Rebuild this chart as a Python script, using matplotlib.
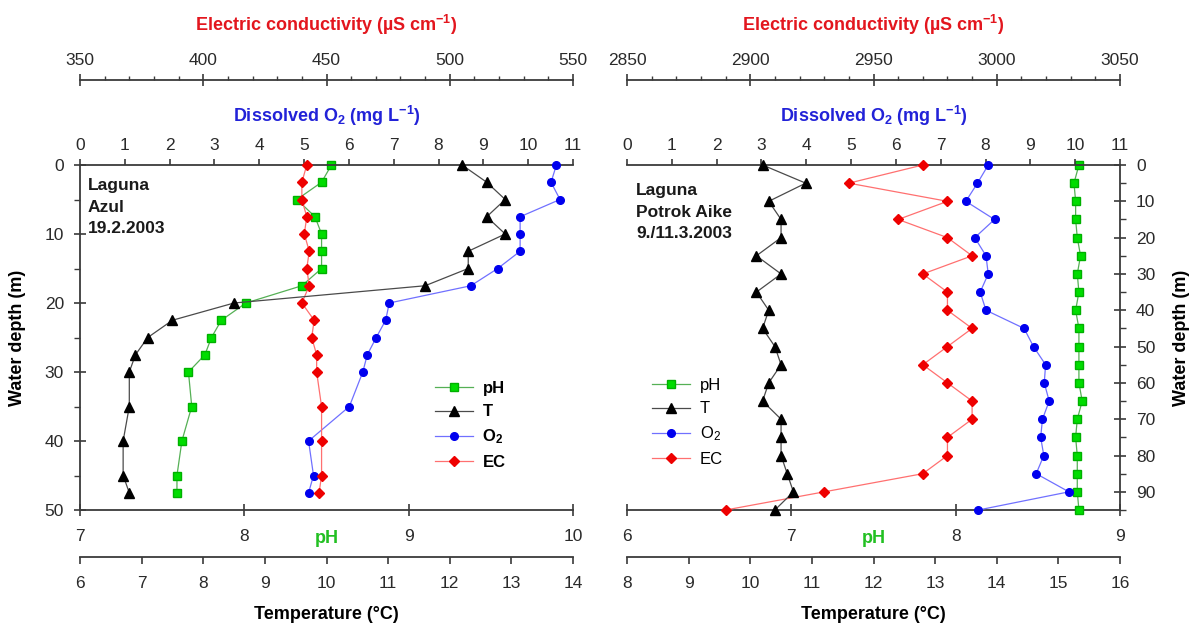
import matplotlib
matplotlib.use('Agg')
import matplotlib.pyplot as plt
from matplotlib.ticker import MultipleLocator
from matplotlib.lines import Line2D

plt.rcParams['font.family'] = ['Liberation Sans', 'DejaVu Sans']
plt.rcParams['mathtext.fontset'] = 'custom'
plt.rcParams['mathtext.rm'] = 'Liberation Sans'
plt.rcParams['mathtext.bf'] = 'Liberation Sans:bold'
plt.rcParams['mathtext.it'] = 'Liberation Sans:italic'

# ---------------- data ----------------
# Laguna Azul, 19.2.2003
depth_azul = [0, 2.5, 5, 7.5, 10, 12.5, 15, 17.5, 20, 22.5, 25, 27.5, 30, 35, 40, 45, 47.5]
ph_azul = [8.53, 8.47, 8.32, 8.43, 8.47, 8.47, 8.47, 8.35, 8.01, 7.86, 7.80, 7.76, 7.66, 7.68, 7.62, 7.59, 7.59]
t_azul = [12.2, 12.6, 12.9, 12.6, 12.9, 12.3, 12.3, 11.6, 8.5, 7.5, 7.1, 6.9, 6.8, 6.8, 6.7, 6.7, 6.8]
o2_azul = [10.63, 10.51, 10.71, 9.82, 9.82, 9.82, 9.32, 8.72, 6.90, 6.82, 6.61, 6.41, 6.31, 6.01, 5.10, 5.21, 5.10]
ec_azul = [442, 440, 440, 442, 441, 443, 442, 443, 440, 445, 444, 446, 446, 448, 448, 448, 447]

# Laguna Potrok Aike, 9./11.3.2003
depth_potrok = [0, 5, 10, 15, 20, 25, 30, 35, 40, 45, 50, 55, 60, 65, 70, 75, 80, 85, 90, 95]
ph_potrok = [8.75, 8.72, 8.73, 8.73, 8.74, 8.76, 8.74, 8.75, 8.73, 8.75,
             8.75, 8.75, 8.75, 8.77, 8.74, 8.73, 8.74, 8.74, 8.74, 8.75]
t_potrok = [10.2, 10.9, 10.3, 10.5, 10.5, 10.1, 10.5, 10.1, 10.3, 10.2,
            10.4, 10.5, 10.3, 10.2, 10.5, 10.5, 10.5, 10.6, 10.7, 10.4]
o2_potrok = [8.06, 7.82, 7.56, 8.20, 7.76, 8.01, 8.06, 7.88, 8.01, 8.86,
             9.07, 9.34, 9.31, 9.42, 9.27, 9.23, 9.30, 9.13, 9.86, 7.84]
ec_potrok = [2970, 2940, 2980, 2960, 2980, 2990, 2970, 2980, 2980, 2990,
             2980, 2970, 2980, 2990, 2990, 2980, 2980, 2970, 2930, 2890]

legend_labels = ['pH', 'T', 'O$_2$', 'EC']

# ---------------- styling ----------------
W, H = 1198, 632
fig = plt.figure(figsize=(W / 100, H / 100), dpi=100)

def fx(px):
    return px / W

def fy(py):
    return 1 - py / H

SPINE = '#3a3a3a'
TICKC = '#2a2a2a'
TS = 12.5     # tick label size
LS = 13       # axis title size
LW = 1.3

styles = {
    'pH': dict(color='#55b055', marker='s', ms=6, mfc='#00dd00', mec='#00b000', lw=0.9),
    'T': dict(color='#4a4a4a', marker='^', ms=6.5, mfc='black', mec='black', lw=0.9),
    'O2': dict(color='#7070ff', marker='o', ms=5.5, mfc='#0000ee', mec='#0000ee', lw=0.9),
    'EC': dict(color='#ff7070', marker='D', ms=5.5, mfc='#ee0000', mec='#ee0000', lw=0.9),
}


def panel(x0, x1, dmax, ph_lim, t_lim, ec_lim, side, depth, ph, t, o2, ec,
          site_text, text_xy, leg_xy, leg_bold):
    ax = fig.add_axes([fx(x0), fy(510), fx(x1) - fx(x0), fy(165) - fy(510)])
    ax.patch.set_visible(False)
    ax.set_xlim(*ph_lim)
    ax.set_ylim(dmax, 0)
    for s in ax.spines.values():
        s.set_color(SPINE)
        s.set_linewidth(LW)
    ax.spines['top'].set_visible(False)
    if side == 'left':
        ax.spines['right'].set_visible(False)
    else:
        ax.spines['left'].set_visible(False)
        ax.yaxis.tick_right()
        ax.yaxis.set_label_position('right')
    ax.xaxis.set_major_locator(MultipleLocator(1))
    ax.yaxis.set_major_locator(MultipleLocator(10))
    ax.yaxis.set_minor_locator(MultipleLocator(5))
    ax.tick_params(axis='x', which='major', direction='inout', length=9, width=1.2,
                   pad=9, labelsize=TS, color=SPINE, labelcolor=TICKC)
    ax.tick_params(axis='y', which='major', direction='inout', length=9, width=1.2,
                   pad=7, labelsize=TS, color=SPINE, labelcolor=TICKC)
    ax.tick_params(axis='y', which='minor', direction='out', length=4, width=1.0,
                   color=SPINE)
    if side == 'right':
        ax.set_yticks(range(0, 91, 10))
    ax.set_xlabel('pH', color='#22c022', fontsize=LS, fontweight='bold')
    ax.xaxis.set_label_coords(0.5, -0.058)
    ax.set_ylabel('Water depth (m)', fontsize=LS, fontweight='bold', color='black')
    if side == 'left':
        ax.yaxis.set_label_coords(-0.11, 0.5)
    else:
        ax.yaxis.set_label_coords(1.1075, 0.5)

    # dissolved O2 (top spine)
    ax_o2 = ax.twiny()
    ax_o2.set_xlim(0, 11)
    for k, s in ax_o2.spines.items():
        s.set_visible(k == 'top')
        s.set_color(SPINE)
        s.set_linewidth(LW)
    ax_o2.xaxis.set_major_locator(MultipleLocator(1))
    ax_o2.tick_params(axis='x', which='major', direction='out', length=4, width=1.2,
                      pad=4.6, labelsize=TS, color=SPINE, labelcolor=TICKC)
    ax_o2.set_xlabel(r'Dissolved O$_\mathbf{2}$ (mg L$^{\mathbf{-1}}$)', color='#2222d8',
                     fontsize=LS, fontweight='bold')
    ax_o2.xaxis.set_label_coords(0.5, 1.1246)

    # electric conductivity (offset top spine)
    ax_ec = ax.twiny()
    ax_ec.set_xlim(*ec_lim)
    for k, s in ax_ec.spines.items():
        s.set_visible(k == 'top')
        s.set_color(SPINE)
        s.set_linewidth(LW)
    ax_ec.spines['top'].set_position(('outward', 61))
    ax_ec.xaxis.set_major_locator(MultipleLocator(50))
    ax_ec.xaxis.set_minor_locator(MultipleLocator(10))
    ax_ec.tick_params(axis='x', which='major', direction='inout', length=9, width=1.2,
                      pad=4.2, labelsize=TS, color=SPINE, labelcolor=TICKC)
    ax_ec.tick_params(axis='x', which='minor', direction='out', length=3, width=1.0,
                      color=SPINE)
    ax_ec.set_xlabel(r'Electric conductivity (µS cm$^{\mathbf{-1}}$)', color='#e3161e',
                     fontsize=LS, fontweight='bold')
    ax_ec.xaxis.set_label_coords(0.5, 1.3875)

    # temperature (offset bottom spine)
    ax_t = ax.twiny()
    ax_t.set_xlim(*t_lim)
    ax_t.xaxis.set_ticks_position('bottom')
    ax_t.xaxis.set_label_position('bottom')
    for k, s in ax_t.spines.items():
        s.set_visible(k == 'bottom')
        s.set_color(SPINE)
        s.set_linewidth(LW)
    ax_t.spines['bottom'].set_position(('outward', 34))
    ax_t.xaxis.set_major_locator(MultipleLocator(1))
    ax_t.tick_params(axis='x', which='major', direction='out', length=5, width=1.2,
                     pad=8.5, labelsize=TS, color=SPINE, labelcolor=TICKC)
    ax_t.set_xlabel('Temperature (°C)', color='black', fontsize=LS, fontweight='bold')
    ax_t.xaxis.set_label_coords(0.5, -0.278)

    # data
    ax.plot(ph, depth, clip_on=False, zorder=3, **styles['pH'])
    ax_o2.plot(o2, depth, clip_on=False, zorder=3, **styles['O2'])
    ax_ec.plot(ec, depth, clip_on=False, zorder=3, **styles['EC'])
    ax_t.plot(t, depth, clip_on=False, zorder=3, **styles['T'])

    fig.text(fx(text_xy[0]), fy(text_xy[1]), site_text, ha='left', va='top',
             fontsize=12.5, fontweight='bold', linespacing=1.55, color='#1a1a1a')

    handles = [Line2D([], [], **styles[k]) for k in ['pH', 'T', 'O2', 'EC']]
    labels = legend_labels
    if leg_bold:
        labels = ['pH', 'T', r'O$_\mathbf{2}$', 'EC']
    fig.legend(handles, labels, loc='upper left',
               bbox_to_anchor=(fx(leg_xy[0]), fy(leg_xy[1])),
               bbox_transform=fig.transFigure, frameon=False, borderpad=0,
               borderaxespad=0, handlelength=2.3, handletextpad=0.55,
               labelspacing=0.5,
               prop={'size': 12, 'weight': 'bold' if leg_bold else 'normal'})
    return ax


panel(80, 573, 50, (7, 10), (6, 14), (350, 550), 'left',
      depth_azul, ph_azul, t_azul, o2_azul, ec_azul,
      'Laguna\nAzul\n19.2.2003', (88, 178), (435, 381), True)

panel(627, 1120, 95, (6, 9), (8, 16), (2850, 3050), 'right',
      depth_potrok, ph_potrok, t_potrok, o2_potrok, ec_potrok,
      'Laguna\nPotrok Aike\n9./11.3.2003', (636, 183), (652, 378), False)

fig.savefig('out.png', dpi=100)
